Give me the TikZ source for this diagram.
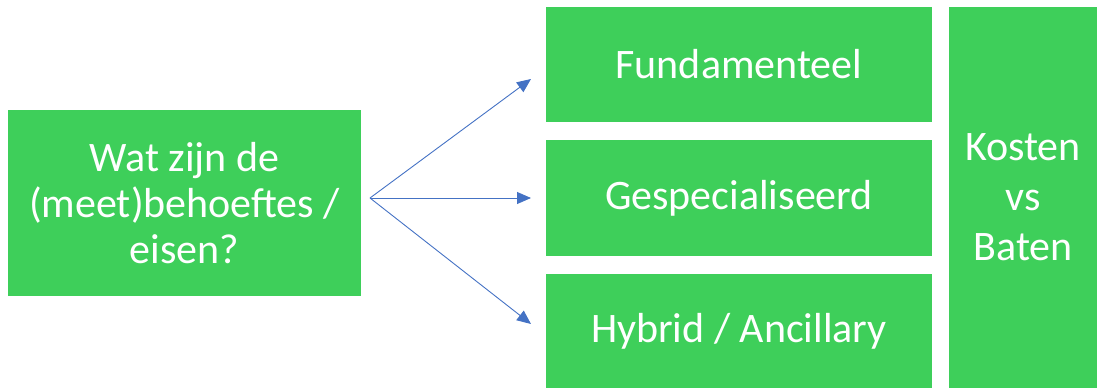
\documentclass[tikz,border=0pt]{standalone}
\usepackage{fontspec}
\setmainfont{Carlito}
\usetikzlibrary{arrows.meta}
\definecolor{boxgreen}{HTML}{3ECF5A}
\definecolor{arrowblue}{HTML}{4472C4}
\tikzset{
  gbox/.style={fill=boxgreen, draw=none, text=white, inner sep=0pt, align=center,
    font=\fontsize{42}{46}\selectfont},
  conn/.style={draw=arrowblue, line width=0.9pt, -{Triangle[length=14pt,width=12pt]}}
}
\begin{document}
\begin{tikzpicture}[x=1pt,y=-1pt]
\useasboundingbox (0,0) rectangle (1097,388);
\node[gbox, minimum width=353pt, minimum height=186pt] (q) at (184.5,203) {Wat zijn de\\(meet)behoeftes /\\eisen?};
\node[gbox, minimum width=386pt, minimum height=115pt] (f) at (739,64.5) {\raisebox{-2pt}{Fundamenteel}};
\node[gbox, minimum width=386pt, minimum height=116pt] (g) at (739,198) {\raisebox{-2pt}{Gespecialiseerd}};
\node[gbox, minimum width=386pt, minimum height=114pt] (h) at (739,331) {\raisebox{-2pt}{Hybrid / Ancillary}};
\node[gbox, minimum width=148pt, minimum height=381pt, font=\fontsize{42}{50}\selectfont] (k) at (1023,197.5) {Kosten\\vs\\Baten};
\coordinate (o) at (370,198);
\coordinate (tf) at (531,79);
\coordinate (tg) at (531,198);
\coordinate (th) at (531,324);
\draw[conn] (o) -- (tf);
\draw[conn] (o) -- (tg);
\draw[conn] (o) -- (th);
\end{tikzpicture}
\end{document}
